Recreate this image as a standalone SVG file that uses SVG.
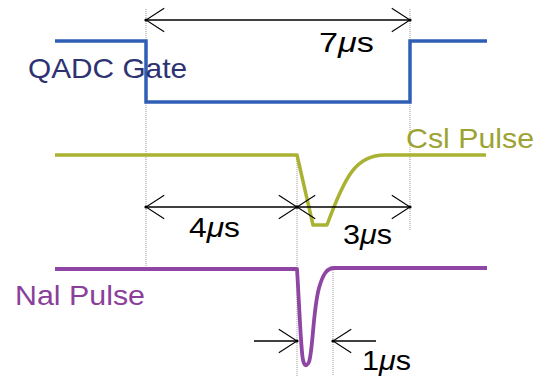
<svg xmlns="http://www.w3.org/2000/svg" width="540" height="378" viewBox="0 0 540 378">
<style>
  .guide{stroke:#999;stroke-width:1;stroke-dasharray:1,1;fill:none}
  .dim{stroke:#000;stroke-width:1.3;fill:none}
  .lbl{font-family:"Liberation Sans",Arial,sans-serif;font-size:28px}
  .mu{font-style:italic}
  .dl{font-family:"Liberation Sans",Arial,sans-serif;font-size:27px;fill:#000}
</style>
<defs>
  <marker id="ah" markerUnits="userSpaceOnUse" markerWidth="40" markerHeight="30" refX="0" refY="0" viewBox="-20 -14 24 28" orient="auto-start-reverse">
    <path d="M-17,-11 L0,0 L-17,11" fill="none" stroke="#000" stroke-width="1"/>
    <circle cx="0" cy="0" r="1.5" fill="#000"/>
  </marker>
</defs>
<g id="guides">
  <line class="guide" x1="146" y1="9" x2="146" y2="270"/>
  <line class="guide" x1="410" y1="9" x2="410" y2="230"/>
  <line class="guide" x1="297" y1="155" x2="297" y2="376"/>
  <line class="guide" x1="333" y1="268" x2="333" y2="376"/>
</g>
<g id="qadc-gate">
  <path d="M55,41 H146 V102 H410 V41 H487" fill="none" stroke="#2f5fb5" stroke-width="3.5"/>
  <text class="lbl" x="28" y="78" fill="#2e3272" textLength="159" lengthAdjust="spacingAndGlyphs">QADC Gate</text>
</g>
<g id="csi-pulse">
  <path d="M55,155 H297 L313,225 H327 C345,176 356,155 385,155 H486" fill="none" stroke="#a9b233" stroke-width="3.5" stroke-linejoin="round"/>
  <text class="lbl" x="406" y="148" fill="#9da332" textLength="128" lengthAdjust="spacingAndGlyphs">Csl Pulse</text>
</g>
<g id="nai-pulse">
  <path d="M55,269 H297 C299,300 300,330 302,352 C303,366 306,368 309,362 C313,350 313,310 319,288 C323,274 327,268 334,268 H487" fill="none" stroke="#8e45a3" stroke-width="3.8" stroke-linejoin="round"/>
  <text class="lbl" x="15" y="305" fill="#8a3f9c" textLength="130" lengthAdjust="spacingAndGlyphs">Nal Pulse</text>
</g>
<g id="connectors">
  <line class="dim" x1="146" y1="20" x2="410" y2="20" marker-start="url(#ah)" marker-end="url(#ah)"/>
  <line class="dim" x1="146" y1="207" x2="297" y2="207" marker-start="url(#ah)" marker-end="url(#ah)"/>
  <line class="dim" x1="297" y1="207" x2="410" y2="207" marker-start="url(#ah)" marker-end="url(#ah)"/>
  <line class="dim" x1="254" y1="341" x2="297" y2="341" marker-end="url(#ah)"/>
  <line class="dim" x1="376" y1="341" x2="333" y2="341" marker-end="url(#ah)"/>
</g>
<g id="labels">
  <text class="dl" x="319" y="52" textLength="55" lengthAdjust="spacingAndGlyphs">7<tspan class="mu">μ</tspan>s</text>
  <text class="dl" x="189" y="237" textLength="51" lengthAdjust="spacingAndGlyphs">4<tspan class="mu">μ</tspan>s</text>
  <text class="dl" x="343" y="244" textLength="49" lengthAdjust="spacingAndGlyphs">3<tspan class="mu">μ</tspan>s</text>
  <text class="dl" x="362" y="370" textLength="49" lengthAdjust="spacingAndGlyphs">1<tspan class="mu">μ</tspan>s</text>
</g>
</svg>
